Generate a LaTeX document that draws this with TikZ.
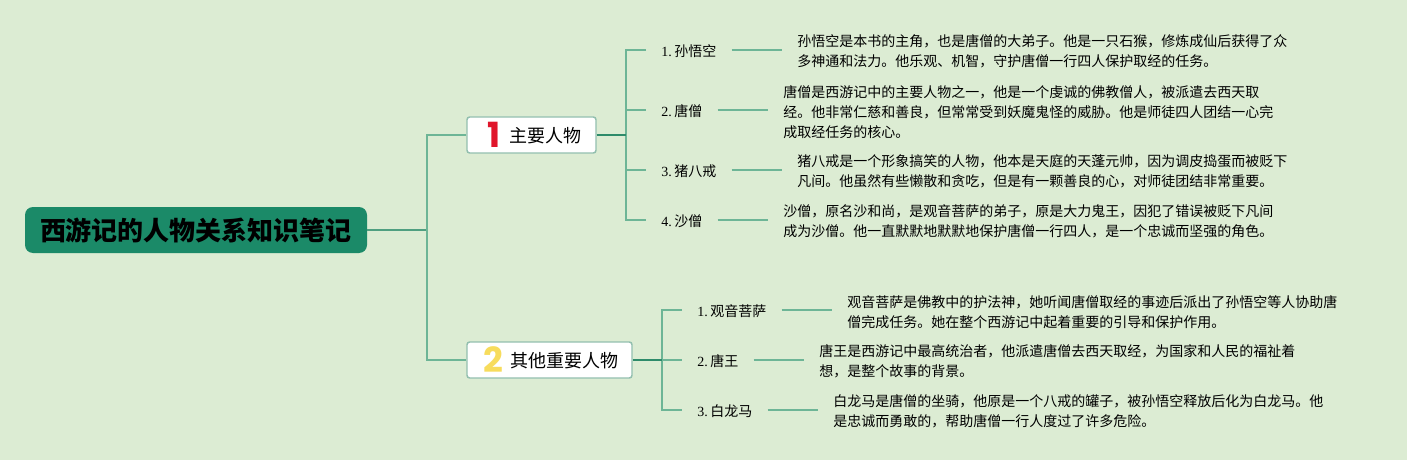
\documentclass[tikz,border=0pt]{standalone}
\usepackage{fontspec}
\setmainfont{Liberation Serif}
\newfontfamily\cjk{Noto Sans CJK SC}
\newfontfamily\iconfont{Poppins}
\usepackage{tikz}

\definecolor{bgcol}{HTML}{DCECD3}
\definecolor{rootcol}{HTML}{1B8A68}
\definecolor{rootline}{HTML}{4F9F80}
\definecolor{branchline}{HTML}{2E8B6A}
\definecolor{leafline}{HTML}{6DB596}
\definecolor{boxline}{HTML}{93BFAF}
\definecolor{onecol}{HTML}{E0162B}
\definecolor{twocol}{HTML}{F7DC5C}

\newcommand{\bignum}[2]{\textcolor{#1}{\raisebox{-3.5pt}{\iconfont\bfseries\fontsize{26}{26}\selectfont #2}}\hspace{7pt}}
\newcommand{\numdot}[1]{{\rmfamily #1.}\hspace{1.9pt}}

\begin{document}
\begin{tikzpicture}[
		x=0.75pt, y=-0.75pt,
		every node/.style={inner sep=0pt, font=\cjk\fontsize{10.5}{15}\selectfont},
		rootbox/.style={fill=rootcol, rounded corners=6pt, minimum width=256.5pt, minimum height=34.5pt, text height=18.3pt, text depth=2pt, font=\cjk\bfseries\fontsize{19.5}{20}\selectfont},
		branchbox/.style={draw=boxline, fill=white, line width=1.1pt, rounded corners=2pt, minimum height=27pt, text height=13.8pt, text depth=2pt, font=\cjk\fontsize{13.5}{15}\selectfont},
		leafbox/.style={anchor=west, inner xsep=11.25pt, text height=10.5pt, text depth=1pt},
		descbox/.style={anchor=west, inner xsep=11.25pt, align=left},
		rootedge/.style={draw=rootline, line width=1.1pt},
		branchedge/.style={draw=branchline, line width=1.1pt},
		leafedge/.style={draw=leafline, line width=1.1pt}
	]
  \fill [bgcol] (0,0) rectangle (1407,460);
  \useasboundingbox (0,0) rectangle (1407,460);

  \node (root) [rootbox] at (196,230) {西游记的人物关系知识笔记};
  \node (main) [branchbox, minimum width=96.75pt] at (531.5,135) {\hspace{4.5pt}\bignum{onecol}{1}主要人物};
  \node (other) [branchbox, minimum width=123.75pt] at (549.5,360) {\hspace{2pt}\bignum{twocol}{2}\hspace{-2pt}其他重要人物};
  \coordinate (fork) at (427,230);
  \coordinate (fork_m) at (626,135);
  \coordinate (fork_o) at (662,360);

  \node (wukong) [leafbox] at (646,50) {\numdot{1}孙悟空};
  \node (tangseng) [leafbox] at (646,110) {\numdot{2}唐僧};
  \node (bajie) [leafbox] at (646,170) {\numdot{3}猪八戒};
  \node (shaseng) [leafbox] at (646,220) {\numdot{4}沙僧};
  \node (guanyin) [leafbox] at (682,310) {\numdot{1}观音菩萨};
  \node (tangwang) [leafbox] at (682,360) {\numdot{2}唐王};
  \node (bailong) [leafbox] at (682,410) {\numdot{3}白龙马};

  \node (wukong_t) [descbox] at (782,51.7) {孙悟空是本书的主角，也是唐僧的大弟子。他是一只石猴，修炼成仙后获得了众\\多神通和法力。他乐观、机智，守护唐僧一行四人保护取经的任务。};
  \node (tangseng_t) [descbox] at (768,111.7) {唐僧是西游记中的主要人物之一，他是一个虔诚的佛教僧人，被派遣去西天取\\经。他非常仁慈和善良，但常常受到妖魔鬼怪的威胁。他是师徒四人团结一心完\\成取经任务的核心。};
  \node (bajie_t) [descbox] at (782,171.7) {猪八戒是一个形象搞笑的人物，他本是天庭的天蓬元帅，因为调皮捣蛋而被贬下\\凡间。他虽然有些懒散和贪吃，但是有一颗善良的心，对师徒团结非常重要。};
  \node (shaseng_t) [descbox] at (768,221.7) {沙僧，原名沙和尚，是观音菩萨的弟子，原是大力鬼王，因犯了错误被贬下凡间\\成为沙僧。他一直默默地默默地保护唐僧一行四人，是一个忠诚而坚强的角色。};
  \node (guanyin_t) [descbox] at (832,311.7) {观音菩萨是佛教中的护法神，她听闻唐僧取经的事迹后派出了孙悟空等人协助唐\\僧完成任务。她在整个西游记中起着重要的引导和保护作用。};
  \node (tangwang_t) [descbox] at (804,361.7) {唐王是西游记中最高统治者，他派遣唐僧去西天取经，为国家和人民的福祉着\\想，是整个故事的背景。};
  \node (bailong_t) [descbox] at (818,411.7) {白龙马是唐僧的坐骑，他原是一个八戒的罐子，被孙悟空释放后化为白龙马。他\\是忠诚而勇敢的，帮助唐僧一行人度过了许多危险。};

  \draw [rootedge] (root.east) -- (fork);
  \draw [leafedge] (main.west) -| (fork) |- (other.west);
  \draw [leafedge] (wukong.west) -| (fork_m) |- (shaseng.west);
  \draw [leafedge] (fork_m) |- (tangseng.west);
  \draw [leafedge] (fork_m) |- (bajie.west);
  \draw [branchedge] (main.east) -- (fork_m);
  \draw [leafedge] (guanyin.west) -| (fork_o) |- (bailong.west);
  \draw [leafedge] (fork_o) -- (tangwang.west);
  \draw [branchedge] (other.east) -- (fork_o);

  \draw [leafedge] (wukong.east) -- (wukong.east -| wukong_t.west);
  \draw [leafedge] (tangseng.east) -- (tangseng.east -| tangseng_t.west);
  \draw [leafedge] (bajie.east) -- (bajie.east -| bajie_t.west);
  \draw [leafedge] (shaseng.east) -- (shaseng.east -| shaseng_t.west);
  \draw [leafedge] (guanyin.east) -- (guanyin.east -| guanyin_t.west);
  \draw [leafedge] (tangwang.east) -- (tangwang.east -| tangwang_t.west);
  \draw [leafedge] (bailong.east) -- (bailong.east -| bailong_t.west);
\end{tikzpicture}
\end{document}
